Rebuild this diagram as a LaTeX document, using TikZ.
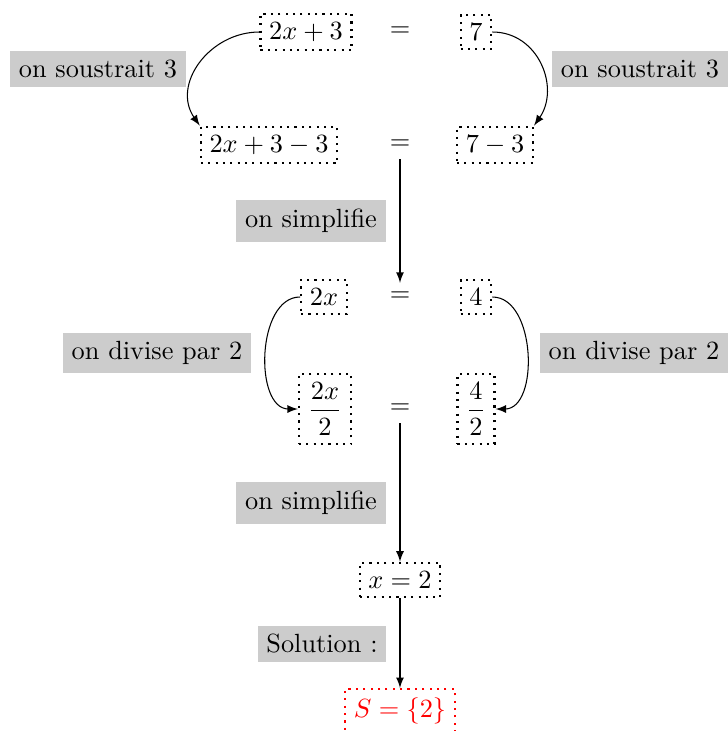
\documentclass[tikz,border=0pt]{standalone}
\usepackage{amsmath}
\usetikzlibrary{arrows}

\begin{document}
\begin{tikzpicture}[
        x=0.38pt, y=0.38pt, >=latex,
        % Cadres pointillés des membres de l'équation
        membre/.style={draw, dotted, thick},
        % Étiquettes grises des opérations
        etape/.style={fill=gray!40},
        % Flèches courbes et droites
        fleche/.style={->, black}
    ]
        \useasboundingbox (0,0) rectangle (728,-731);

        % Première ligne : 2x+3 = 7
        \node[membre] (a1) at (306,-32) {$2x+3$};
        \node (e1) at (400,-32) {$=$};
        \node[membre] (b1) at (476,-32) {$7$};

        % Deuxième ligne : on soustrait 3
        \node[membre] (a2) at (269,-145) {$2x+3-3$};
        \node (e2) at (400,-145) {$=$};
        \node[membre] (b2) at (495,-145) {$7-3$};
        \node[etape] (t1) at (98,-69) {on soustrait 3};
        \node[etape] (t2) at (640,-69) {on soustrait 3};
        \draw[fleche] (a1.west) to[out=180, in=125, looseness=1.15] (a2.north west);
        \draw[fleche] (b1.east) to[out=0, in=55, looseness=1.15] (b2.north east);

        % Simplification
        \node[etape] (s1) at (311,-221) {on simplifie};

        % Troisième ligne : 2x = 4
        \node[membre] (a3) at (324,-297) {$2x$};
        \node (e3) at (400,-297) {$=$};
        \node[membre] (b3) at (476,-297) {$4$};
        \draw[fleche] (e2.south) -- (e3.north);

        % Quatrième ligne : on divise par 2
        \node[membre] (a4) at (325,-409) {$\dfrac{2x}{2}$};
        \node (e4) at (400,-409) {$=$};
        \node[membre] (b4) at (476,-409) {$\dfrac{4}{2}$};
        \node[etape] (t3) at (157,-353) {on divise par 2};
        \node[etape] (t4) at (634,-353) {on divise par 2};
        \draw[fleche] (a3.west) to[out=180, in=180] (a4.west);
        \draw[fleche] (b3.east) to[out=0, in=0] (b4.east);

        % Solution
        \node[etape] (s2) at (311,-503) {on simplifie};
        \node[membre] (r) at (400,-580) {$x=2$};
        \draw[fleche] (e4.south) -- (r.north);
        \node[etape] (s3) at (322,-644) {Solution :};
        \node[membre, red] (sol) at (400,-711) {$S=\{2\}$};
        \draw[fleche] (r.south) -- (sol.north);

    \end{tikzpicture}
\end{document}
